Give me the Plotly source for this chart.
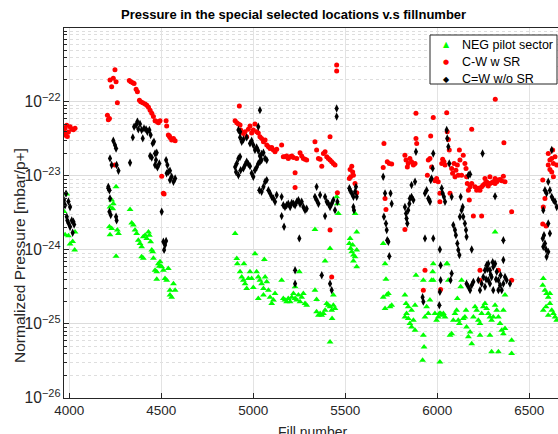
import plotly.graph_objects as go

# ---------------- data ----------------
neg_fill = [3986,3977,3995,4004,4018,4029,4031,3971,
    4254,4230,4239,4221,4236,4218,4230,4221,4261,4267,4254,
    4330,4339,4348,4357,4366,4375,4384,4393,4402,4412,4421,4430,4435,4442,4448,4453,4457,4393,4402,
    4466,4475,4484,4493,4502,4475,4511,4520,4529,4538,4547,4556,4566,4575,4547,4489,
    4901,4910,4913,4949,5009,5060,4928,4937,4946,4955,4964,4973,4982,4991,5000,5018,5027,5036,5045,5055,
    5064,5073,5082,5091,5100,5109,5118,5027,5055,5154,5163,5172,5181,5190,5200,5209,5218,5227,5236,5245,
    5254,5263,5272,5281,5290,5250,5227,5335,5335,5344,5344,5354,5363,5372,5381,5390,5399,5408,5417,5426,
    5435,5444,5428,5417,5417,5390,5435,5453,5457,5462,
    5526,5522,5529,5535,5544,5553,5562,5544,5562,5553,5562,5540,
    5706,5716,5721,5706,5725,5734,5716,5743,5752,5824,5830,5833,5842,5851,5860,5870,5879,5884,5824,5842,
    5860,5879,5924,5928,5920,5933,5942,5951,5960,5969,5975,5978,5987,5996,6005,6011,6018,6024,6033,6042,
    6051,6054,6060,6069,6078,6087,6096,6105,6109,6114,6120,6127,6132,6141,6150,6156,6159,6169,6178,6187,
    6196,6205,6214,6223,6232,6241,6250,6259,6268,6277,6286,6295,6304,6314,6314,6323,6332,6341,6350,6359,
    6368,6359,6368,6404,6404,6332,6295,6014,5924,5978,6232,6286,
    6576,6573,6585,6594,6603,6612,6591,6576,6622,6631,6640,6649,6603,6612]
neg_p = [5.7e-24,1.6e-24,1.55e-24,1.2e-24,1.3e-24,1.0e-24,1.75e-24,3.3e-24,
    7.1e-24,4.7e-24,4.2e-24,3.8e-24,3.6e-24,2.05e-24,1.95e-24,1.6e-24,1.85e-24,1.66e-24,8.2e-25,
    3.5e-24,2.3e-24,2.16e-24,1.85e-24,1.67e-24,1.35e-24,1.22e-24,1.1e-24,1.5e-24,1.58e-24,1.43e-24,1.75e-24,1.58e-24,1.29e-24,1.0e-24,9.4e-25,7.7e-25,8.1e-25,7.7e-25,
    5.3e-25,5.05e-25,6.5e-25,6.9e-25,5.9e-25,4.0e-25,5.3e-25,4.1e-25,3.9e-25,5.6e-25,2.86e-25,2.3e-25,3.5e-25,2.86e-25,2.45e-25,6.0e-25,
    1.67e-24,7.66e-25,6.5e-25,6.5e-25,8.9e-25,7.4e-25,5.05e-25,4.3e-25,3.9e-25,3.5e-25,3.0e-25,4.1e-25,5.05e-25,4.1e-25,3.1e-25,5.05e-25,4.3e-25,3.9e-25,3.5e-25,3.0e-25,
    4.3e-25,3.7e-25,2.86e-25,2.3e-25,1.89e-25,2.1e-25,2.58e-25,2.2e-25,2.45e-25,3.9e-25,2.2e-25,2.1e-25,1.99e-25,2.2e-25,1.99e-25,2.3e-25,2.58e-25,2.2e-25,2.1e-25,2.45e-25,
    1.99e-25,2.3e-25,2.58e-25,1.89e-25,1.79e-25,5.05e-25,3.17e-25,1.89e-24,2.86e-25,2.14e-25,1.46e-25,1.31e-25,1.38e-25,1.31e-25,1.38e-25,1.53e-25,1.89e-25,1.79e-25,1.7e-25,1.53e-25,
    1.79e-25,1.61e-25,1.18e-25,5.7e-26,1.04e-24,7.1e-25,2.45e-25,5.2e-24,4.2e-24,3.1e-24,
    1.43e-24,1.22e-24,1.04e-24,9.4e-25,8.5e-25,8.05e-25,1.0e-24,7.1e-25,5.9e-25,3.1e-24,1.75e-24,1.16e-24,
    1.22e-24,6.5e-25,4.0e-25,2.3e-25,2.45e-25,2.58e-25,1.61e-25,1.7e-25,1.79e-25,2.45e-25,1.89e-25,1.38e-25,1.18e-25,1.01e-25,9.1e-26,1.12e-25,1.79e-25,4.55e-25,1.24e-25,1.7e-25,
    1.53e-25,8.2e-26,7.05e-26,4.9e-26,3.24e-26,1.24e-25,1.7e-25,1.38e-25,2.1e-25,3.9e-25,5.05e-25,6.5e-25,1.38e-25,1.12e-25,1.24e-25,1.38e-25,1.38e-25,1.31e-25,1.38e-25,1.24e-25,
    6.5e-25,6.5e-25,3.9e-25,7.05e-26,7.4e-26,1.12e-25,1.38e-25,1.53e-25,2.2e-25,1.12e-25,1.01e-25,3.17e-25,3.9e-25,1.18e-25,1.24e-25,1.53e-25,9.1e-26,6.7e-26,7.8e-26,5.4e-26,
    1.24e-25,1.7e-25,1.53e-25,1.12e-25,1.01e-25,1.38e-25,1.7e-25,1.89e-25,1.61e-25,1.38e-25,1.24e-25,1.12e-25,1.24e-25,1.75e-24,1.79e-25,1.53e-25,1.24e-25,1.01e-25,8.2e-26,7.4e-26,
    8.7e-26,1.53e-25,2.45e-25,6.0e-26,4.0e-26,4.2e-26,4.2e-26,3.07e-26,3.9e-25,3.9e-25,7.05e-26,7.05e-26,
    4.1e-25,3.34e-25,2.86e-25,2.58e-25,2.3e-25,1.89e-25,1.7e-25,1.53e-25,1.53e-25,1.38e-25,1.24e-25,1.12e-25,1.31e-25,2.58e-25]

cw_fill = [3977,3986,3995,4004,4022,4031,3971,3977,3989,4013,
    4207,4212,4221,4230,4239,4248,4254,4261,4218,4248,
    4326,4334,4345,4352,4363,4370,4381,4388,4399,4412,4421,4430,4439,4448,4457,4466,4475,4484,4493,4526,
    4529,4538,4547,4556,4566,4575,4502,4515,4511,4544,
    4901,4910,4919,4924,4928,4931,4946,4955,4964,4973,4982,4991,5000,5009,5018,5027,5036,5045,5055,5064,
    5073,5082,5091,5100,5109,5118,5127,5154,5163,5172,5181,5190,5200,5209,5218,5227,5227,5236,5254,5263,
    5272,5281,5290,5335,5344,5354,5363,5372,5381,5390,5399,5408,5417,5426,5435,5444,5417,5453,5453,5457,
    5417,5426,
    5535,5526,5540,5529,5522,5544,5553,5562,
    5710,5706,5716,5721,5728,5739,5752,5824,5824,5830,5837,5842,5851,5860,5870,5879,5884,5888,5884,5933,
    5924,5946,5951,5960,5964,5969,5978,5987,5996,6005,6014,6014,6018,6024,6029,6036,6042,6051,6054,6060,
    6065,6069,6078,6083,6091,6096,6101,6109,6114,6120,6123,6132,6141,6150,6156,6159,6163,6169,6174,6178,
    6187,6187,6196,6205,6214,6223,6232,6241,6250,6259,6268,6277,6286,6295,6304,6314,6323,6332,6341,6350,
    6359,6362,6368,6315,6404,6404,6241,6232,6232,6332,6259,6286,6314,
    6573,6585,6576,6573,6591,6603,6612,6622,6631,6640,6649,6622,6631,6612,6627,6603]
cw_p = [4.4e-23,4.8e-23,3.9e-23,4.6e-23,4.2e-23,4.4e-23,3.9e-23,3.55e-23,3.4e-23,4.3e-23,
    6.6e-23,5.7e-23,1.97e-22,1.6e-22,2.07e-22,2.7e-22,1.87e-22,9.7e-23,5.96e-23,1.4e-23,
    1.93e-22,1.87e-22,1.81e-22,1.77e-22,1.47e-22,1.37e-22,1.05e-22,1.0e-22,9.7e-23,9.3e-23,9.0e-23,8.4e-23,7.7e-23,7.0e-23,6.3e-23,5.55e-23,5.4e-23,5.2e-23,5.55e-23,5.55e-23,
    4.7e-23,3.55e-23,3.3e-23,3.04e-23,3.2e-23,2.98e-23,9.9e-24,5.7e-24,5.8e-24,3.44e-23,
    5.55e-23,5.2e-23,5.0e-23,8.75e-23,4.85e-23,4.15e-23,3.74e-23,3.94e-23,3.37e-23,4.24e-23,4.7e-23,3.8e-23,4.15e-23,5.0e-23,3.94e-23,3.8e-23,3.37e-23,3.2e-23,2.88e-23,3.04e-23,
    2.6e-23,2.47e-23,2.34e-23,2.42e-23,2.23e-23,2.11e-23,2.28e-23,2.6e-23,1.81e-23,1.81e-23,1.85e-23,1.72e-23,1.81e-23,1.85e-23,1.77e-23,1.1e-23,6.97e-24,1.72e-23,2.05e-23,1.85e-23,
    1.72e-23,1.67e-23,1.63e-23,2.88e-23,2.23e-23,1.72e-23,1.67e-23,1.35e-23,2.0e-23,2.11e-23,1.81e-23,1.72e-23,1.63e-23,1.55e-23,1.47e-23,1.4e-23,3.37e-23,3.13e-22,2.6e-22,5.9e-24,
    1.85e-24,4.3e-25,
    1.35e-23,1.22e-23,1.13e-23,9.7e-24,9.2e-24,1.02e-23,7.9e-24,5.9e-24,
    2.74e-23,1.3e-23,4.95e-24,3.5e-24,1.55e-23,1.47e-23,1.44e-23,1.89e-24,1.9e-23,1.63e-23,1.32e-23,1.47e-23,1.72e-23,1.55e-23,1.4e-23,1.47e-23,3.2e-23,2.74e-23,6.97e-23,5.3e-25,
    2.86e-25,1.02e-23,1.63e-23,1.72e-23,3.44e-23,1.32e-23,6.15e-23,8.6e-24,9.2e-24,8.3e-24,5.8e-24,4.47e-24,2.92e-25,1.47e-23,1.67e-23,1.55e-23,1.4e-23,7.1e-23,3.94e-23,3.1e-23,
    2.23e-23,5.8e-24,1.26e-23,1.08e-23,1.47e-23,9.7e-24,1.19e-23,1.4e-23,1.02e-23,2.23e-23,1.63e-23,1.02e-23,1.9e-23,1.47e-23,1.26e-23,9.7e-24,7.9e-24,6.4e-24,4.7e-24,7.1e-24,
    4.24e-23,7.9e-24,2.86e-24,7.1e-24,6.4e-24,6.8e-24,6.4e-24,7.1e-24,7.5e-24,7.9e-24,8.3e-24,7.3e-24,7.9e-24,8.05e-24,8.3e-24,7.9e-24,8.3e-24,8.75e-24,8.9e-24,8.6e-24,
    9.9e-24,2.8e-23,8.3e-24,1.08e-22,3.27e-24,3.9e-25,2.86e-24,5.3e-25,3.9e-25,5.3e-25,9.2e-24,9.7e-24,9.2e-24,
    8.75e-24,4.95e-24,3.8e-24,2.23e-24,2.1e-24,1.4e-23,1.63e-23,1.72e-23,1.47e-23,1.81e-23,1.4e-23,1.13e-23,9.7e-24,1.22e-23,2.23e-23,2.0e-23]

cwo_fill = [3982,3971,3995,3977,4004,3986,4013,3995,4022,4004,4018,3989,4026,
    4239,4248,4254,4221,4230,4257,4267,4212,4218,4221,4218,4225,4254,4257,4212,
    4330,4345,4352,4363,4370,4375,4384,4393,4399,4406,4417,4424,4435,4442,4453,4460,4439,4448,4466,4471,
    4479,4489,4466,4475,4526,4533,4538,4547,4556,4566,4575,4547,4529,4502,4511,4520,4515,4526,
    5036,4919,4928,4937,4946,4964,4982,4991,5000,5009,5018,5027,5036,5045,5055,5064,5073,4928,4919,4910,
    4901,4906,4919,4931,4946,4955,4964,4973,4982,4991,5000,5009,5018,5027,5036,5045,5033,5045,5055,5064,
    5073,5082,5091,5100,5109,5118,5127,5154,5163,5172,5181,5190,5200,5209,5218,5227,5236,5245,5254,5263,
    5272,5281,5290,5154,5167,5250,5227,5227,5344,5335,5344,5354,5363,5390,5399,5408,5417,5426,5435,5444,
    5453,5453,5390,5372,5417,5426,5457,5027,4928,
    5526,5535,5544,5553,5562,5544,5547,5522,5558,
    5706,5716,5710,5721,5725,5728,5734,5739,5746,5752,5824,5830,5833,5837,5842,5848,5851,5860,5870,5860,
    5879,5884,5933,5942,5951,5957,5960,5964,5969,5975,5978,5933,5978,5920,5924,6014,6018,6018,6014,6011,
    6024,6029,6036,6042,6051,6054,6060,6065,6078,6087,6096,6101,6109,6114,6120,6123,6132,6138,6141,6150,
    6156,6159,6169,6178,6187,6127,6072,6078,6159,6169,6178,6187,6196,6232,6241,6250,6259,6268,6277,6286,
    6295,6304,6314,6323,6332,6341,6350,6359,6368,6377,6395,6246,6314,6359,6359,6259,6286,6304,6332,6223,
    6277,6265,6290,6319,6344,6272,6301,
    6576,6585,6594,6603,6612,6622,6631,6640,6649,6622,6573,6580,6585,6591,6594,6603,6612,6603,6576]
cwo_p = [5.75e-24,4.7e-24,4.5e-24,4.0e-24,3.8e-24,2.8e-24,2.5e-24,2.3e-24,2.4e-24,2.05e-24,1.7e-24,2.5e-24,2.2e-24,
    2.98e-23,2.6e-23,2.34e-23,1.72e-23,1.4e-23,1.4e-23,1.17e-23,7.1e-24,6.4e-24,4.95e-24,3.27e-24,2.95e-24,2.8e-24,2.5e-24,6.8e-24,
    1.5e-23,3.3e-23,4.6e-23,4.85e-23,5.4e-23,4.24e-23,5.0e-23,4.15e-23,3.2e-23,4.37e-23,4.24e-23,3.94e-23,4.15e-23,3.55e-23,2.74e-23,2.88e-23,1.85e-23,1.77e-23,1.4e-23,1.63e-23,
    1.3e-23,1.47e-23,2.0e-23,2.05e-23,1.63e-23,1.4e-23,1.13e-23,8.75e-24,9.7e-24,8.3e-24,9.2e-24,1.17e-23,1.08e-23,3.27e-24,1.29e-24,1.16e-24,1.0e-24,1.32e-24,
    7.7e-23,4.15e-23,3.3e-23,2.88e-23,3.1e-23,3.3e-23,2.74e-23,2.98e-23,2.6e-23,2.23e-23,2.42e-23,2.18e-23,1.85e-23,1.97e-23,2.05e-23,1.72e-23,1.63e-23,1.81e-23,1.72e-23,1.47e-23,
    1.32e-23,1.13e-23,1.02e-23,1.19e-23,1.26e-23,1.4e-23,1.55e-23,1.44e-23,1.35e-23,1.08e-23,9.7e-24,1.19e-23,1.3e-23,1.47e-23,1.55e-23,1.63e-23,6.4e-24,6.1e-24,7.1e-24,8.3e-24,
    8.75e-24,6.4e-24,5.8e-24,5.2e-24,4.95e-24,4.47e-24,5.5e-24,5.2e-24,4.0e-24,3.8e-24,4.0e-24,4.2e-24,3.8e-24,4.3e-24,4.2e-24,4.0e-24,4.47e-24,4.7e-24,4.2e-24,4.47e-24,
    3.8e-24,3.44e-24,3.6e-24,2.86e-24,2.05e-24,1.43e-24,5.3e-25,3.5e-25,7.1e-24,5.2e-24,4.7e-24,4.2e-24,5.5e-24,5.2e-24,4.47e-24,4.2e-24,3.8e-24,4.2e-24,4.7e-24,3.44e-24,
    8.1e-23,6.3e-23,2.86e-24,4.55e-25,3.5e-25,2.86e-25,4.47e-24,4.6e-23,3.94e-23,
    6.4e-24,5.8e-24,5.2e-24,6.1e-24,5.2e-24,3.8e-24,3.44e-24,6.8e-24,7.1e-24,
    9.7e-24,5.8e-24,2.8e-24,2.27e-24,1.85e-24,1.35e-24,1.29e-24,8.2e-25,5.8e-24,4.2e-24,3.8e-24,3.1e-24,2.65e-24,2.27e-24,3.44e-24,4.2e-24,4.95e-24,5.2e-24,4.7e-24,7.5e-24,
    8.3e-24,2.11e-23,5.8e-24,6.4e-24,4.95e-24,4.7e-24,4.47e-24,8.75e-24,9.2e-24,1.26e-23,2.0e-23,1.43e-24,1.43e-24,2.3e-25,2.0e-25,1.01e-24,6.2e-25,3.9e-25,2.71e-25,1.79e-25,
    6.8e-24,5.8e-24,5.2e-24,4.47e-24,4.15e-23,3.2e-23,2.47e-23,1.47e-23,5.2e-24,2.16e-24,1.85e-24,1.58e-24,1.22e-24,1.0e-24,8.5e-25,2.8e-24,3.44e-24,3.8e-24,2.8e-24,2.27e-24,
    1.85e-24,1.5e-24,1.02e-23,1.05e-23,1.01e-24,5.2e-24,3.9e-25,4.8e-25,3.5e-25,3.17e-25,2.86e-25,3.34e-25,3.7e-25,2.86e-25,3.5e-25,4.3e-25,5.3e-25,6.2e-25,6.5e-25,5.3e-25,
    4.3e-25,5.9e-25,6.5e-25,5.05e-25,3.9e-25,3.34e-25,2.86e-25,3.5e-25,4.3e-25,3.9e-25,3.5e-25,2.0e-23,5.3e-24,1.35e-24,7.3e-25,3.17e-25,3.5e-25,2.86e-25,2.86e-25,3.9e-25,
    3.9e-25,4.0e-25,4.6e-25,4.0e-25,4.55e-25,5.5e-25,6.8e-25,
    3.44e-24,6.4e-24,5.8e-24,8.3e-24,6.4e-24,2.23e-23,4.7e-24,4.47e-24,3.8e-24,5.2e-24,1.43e-24,1.58e-24,1.22e-24,1.01e-24,8.05e-25,9.4e-25,1.67e-24,2.27e-24,1.1e-24]

x_tick_vals = [4000, 4500, 5000, 5500, 6000, 6500]
series_names = ["NEG pilot sector", "C-W w SR", "C=W w/o SR"]
series_colors = ["#00ff00", "#ff0000", "#000000"]
legend_glyphs = ["\u25B2", "\u25CF", "\u25C6"]

# ---------------- figure ----------------
FONT = "Liberation Sans, Arial, Helvetica, sans-serif"
TXT = "#262626"

# plot area in pixels: x 64..558, y 28..398
PL, PR, PT, PB = 64, 558, 28, 398
def px(x):
    return (x - PL) / (PR - PL)
def py(y):
    return (PB - y) / (PB - PT)

fig = go.Figure()
fig.add_trace(go.Scatter(x=neg_fill, y=neg_p, mode="markers", name=series_names[0],
                         marker=dict(symbol="triangle-up", size=6, color=series_colors[0], line=dict(width=0))))
fig.add_trace(go.Scatter(x=cw_fill, y=cw_p, mode="markers", name=series_names[1],
                         marker=dict(symbol="circle", size=5, color=series_colors[1], line=dict(width=0))))
fig.add_trace(go.Scatter(x=cwo_fill, y=cwo_p, mode="markers", name=series_names[2],
                         marker=dict(symbol="diamond-tall", size=6, color=series_colors[2], line=dict(width=0))))

annotations = [
    dict(text="<b>Pressure in the special selected locations v.s fillnumber</b>",
         xref="paper", yref="paper", x=px(293), y=1, yshift=4,
         xanchor="center", yanchor="bottom", showarrow=False,
         font=dict(family=FONT, size=13, color="black")),
    dict(text="Fill number", xref="paper", yref="paper",
         x=px(313), y=0, yshift=-24, xanchor="center", yanchor="top",
         showarrow=False, font=dict(family=FONT, size=14, color=TXT)),
    dict(text="Normalized Pressure [mbar/p+]", xref="paper", yref="paper",
         x=0, xshift=-44, y=py(256), xanchor="center", yanchor="middle",
         textangle=-90, showarrow=False, font=dict(family=FONT, size=15.5, color=TXT)),
]
legend_rows_y = [45, 62, 79]
glyph_sizes = [8, 7, 8]
for name, col, g, gs, ry in zip(series_names, series_colors, legend_glyphs, glyph_sizes, legend_rows_y):
    annotations.append(dict(text=g, xref="paper", yref="paper", x=px(446), y=py(ry),
                            xanchor="center", yanchor="middle", showarrow=False,
                            font=dict(family="DejaVu Sans", size=gs, color=col)))
    annotations.append(dict(text=name, xref="paper", yref="paper", x=px(460), y=py(ry),
                            xanchor="left", yanchor="middle", showarrow=False,
                            font=dict(family=FONT, size=12.5, color="black")))

fig.update_layout(
    width=558, height=434,
    margin=dict(l=PL, r=558 - PR, t=PT, b=434 - PB),
    paper_bgcolor="white", plot_bgcolor="white",
    font=dict(family=FONT, size=13, color=TXT),
    showlegend=False,
    annotations=annotations,
    shapes=[dict(type="rect", xref="paper", yref="paper",
                 x0=px(430), x1=px(557), y0=py(84), y1=py(35),
                 line=dict(color="#262626", width=1), fillcolor="white", layer="above")],
)

fig.update_xaxes(
    range=[3971, 6656], tickvals=x_tick_vals,
    showgrid=True, gridcolor="#e3e3e3", gridwidth=1,
    zeroline=False, showline=True, linecolor="#262626", linewidth=1, mirror=True,
    ticks="inside", ticklen=5, tickcolor="#262626",
    tickfont=dict(family=FONT, size=13.5, color=TXT),
)
fig.update_yaxes(
    type="log", range=[-26, -21.004], dtick=1, exponentformat="power",
    showgrid=True, gridcolor="#dcdcdc", gridwidth=1,
    zeroline=False, showline=True, linecolor="#262626", linewidth=1, mirror=False,
    ticks="inside", ticklen=5, tickcolor="#262626",
    tickfont=dict(family=FONT, size=12.5, color=TXT),
    minor=dict(dtick="D1", showgrid=True, gridcolor="#dedede", griddash="dot",
               gridwidth=1, ticks="inside", ticklen=3, tickcolor="#262626"),
)

fig.write_html("out.html")
